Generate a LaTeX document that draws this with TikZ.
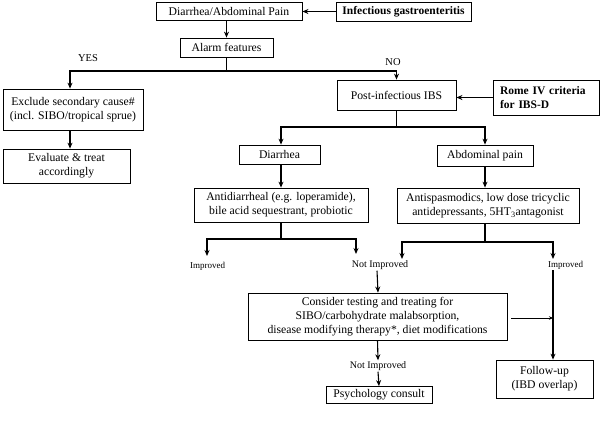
\documentclass[tikz,border=0pt]{standalone}
\usepackage{fontspec}
\setmainfont{Liberation Serif}
\usetikzlibrary{arrows.meta}
\begin{document}
\begin{tikzpicture}[x=1pt,y=-1pt,
  box/.style={draw,line width=0.8pt,inner sep=0pt,align=center,font=\fontsize{11.7}{14}\selectfont},
  bbox/.style={box,font=\fontsize{11.5}{14}\selectfont\bfseries},
  arr/.style={line width=1.1pt,-{Stealth[length=6pt,width=5pt]}},
  sarr/.style={line width=1pt,-{Stealth[length=4pt,width=3.5pt]}},
  ln/.style={line width=1.1pt},
  lab/.style={inner sep=0pt,font=\fontsize{10.5}{12}\selectfont},
  nimp/.style={inner sep=1pt,font=\fontsize{10}{11}\selectfont},
  imp/.style={inner sep=1pt,font=\fontsize{9}{10}\selectfont}]
\useasboundingbox (0,0) rectangle (609,421);
% boxes
\node[box,minimum width=146,minimum height=18] (dap) at (229,11) {Diarrhea/Abdominal Pain};
\node[bbox,minimum width=135,minimum height=19] (inf) at (403.5,11.5) {Infectious gastroenteritis};
\node[box,minimum width=93,minimum height=19] (alarm) at (226.5,47.5) {Alarm features};
\node[box,minimum width=140,minimum height=41] (excl) at (73,109.5) {Exclude secondary cause\#\\(incl. SIBO/tropical sprue)};
\node[box,minimum width=119,minimum height=30] (post) at (396.5,95) {Post-infectious IBS};
\node[bbox,minimum width=106,minimum height=35,align=left,text width=92] (rome) at (546,97.5) {Rome IV criteria\\for IBS-D};
\node[box,minimum width=127,minimum height=34] (eval) at (66.5,166) {Evaluate \& treat\\accordingly};
\node[box,minimum width=81,minimum height=19] (dia) at (279.5,154.5) {Diarrhea};
\node[box,minimum width=96,minimum height=21] (abd) at (485,155.5) {Abdominal pain};
\node[box,minimum width=174,minimum height=34] (anti) at (281,205) {Antidiarrheal (e.g. loperamide),\\bile acid sequestrant, probiotic};
\node[box,minimum width=182,minimum height=35] (spas) at (488,205.5) {Antispasmodics, low dose tricyclic\\antidepressants, 5HT\textsubscript{3}antagonist};
\node[box,minimum width=259,minimum height=47] (cons) at (377.5,316.5) {Consider testing and treating for\\SIBO/carbohydrate malabsorption,\\disease modifying therapy*, diet modifications};
\node[box,minimum width=97,minimum height=38] (fol) at (544.5,379) {Follow-up\\(IBD overlap)};
\node[box,minimum width=106,minimum height=17] (psy) at (379,395) {Psychology consult};
% labels
\node[lab] (yes) at (88,58) {YES};
\node[lab] (no) at (393,62) {NO};
\node[imp] (impL) at (207.5,266) {Improved};
\node[nimp] (nimp1) at (380,265) {Not Improved};
\node[imp] (impR) at (565.5,265) {Improved};
\node[nimp] (nimp2) at (378,366) {Not Improved};
% junctions
\coordinate (j1) at (226.5,71);
\coordinate (j2) at (396.5,127);
\coordinate (j3) at (281,239);
\coordinate (j4) at (485,242);
\coordinate (aL) at (207,256);
\coordinate (aR) at (356,254);
\coordinate (sL) at (402,259);
\coordinate (sR) at (553,259);
\coordinate (vx) at (553,318);
% connectors
\draw[arr] (inf.west) -- (dap.east |- inf.west);
\draw[arr] (dap.south -| alarm.north) -- (alarm.north);
\draw[ln] (alarm.south) -- (j1);
\draw[arr] (j1) -| ([xshift=-3]excl.north);
\draw[arr] (j1) -| (post.north);
\draw[arr] (rome.west) -- (post.east |- rome.west);
\draw[arr] ([xshift=-3]excl.south) -- ([xshift=3.5]eval.north);
\draw[ln] (post.south) -- (j2);
\draw[arr] (j2) -| ([xshift=1.5]dia.north);
\draw[arr] (j2) -| (abd.north);
\draw[arr] ([xshift=1.5]dia.south) -- (anti.north);
\draw[arr] (abd.south) -- (abd.south |- spas.north);
\draw[ln] (anti.south) -- (j3);
\draw[arr] (j3) -| (aL);
\draw[arr] (j3) -| (aR);
\draw[ln] (spas.south -| j4) -- (j4);
\draw[arr] (j4) -| (sL);
\draw[arr] (j4) -| (sR);
\draw[arr] ([xshift=-3]nimp1.south) -- ([xshift=0.5]cons.north);
\draw[arr] (impR.south -| vx) -- (fol.north -| vx);
\draw[sarr] ([xshift=4]cons.east |- vx) -- (vx);
\draw[arr] (cons.south) -- (nimp2.north);
\draw[arr] (nimp2.south) -- (psy.north);
\end{tikzpicture}
\end{document}
